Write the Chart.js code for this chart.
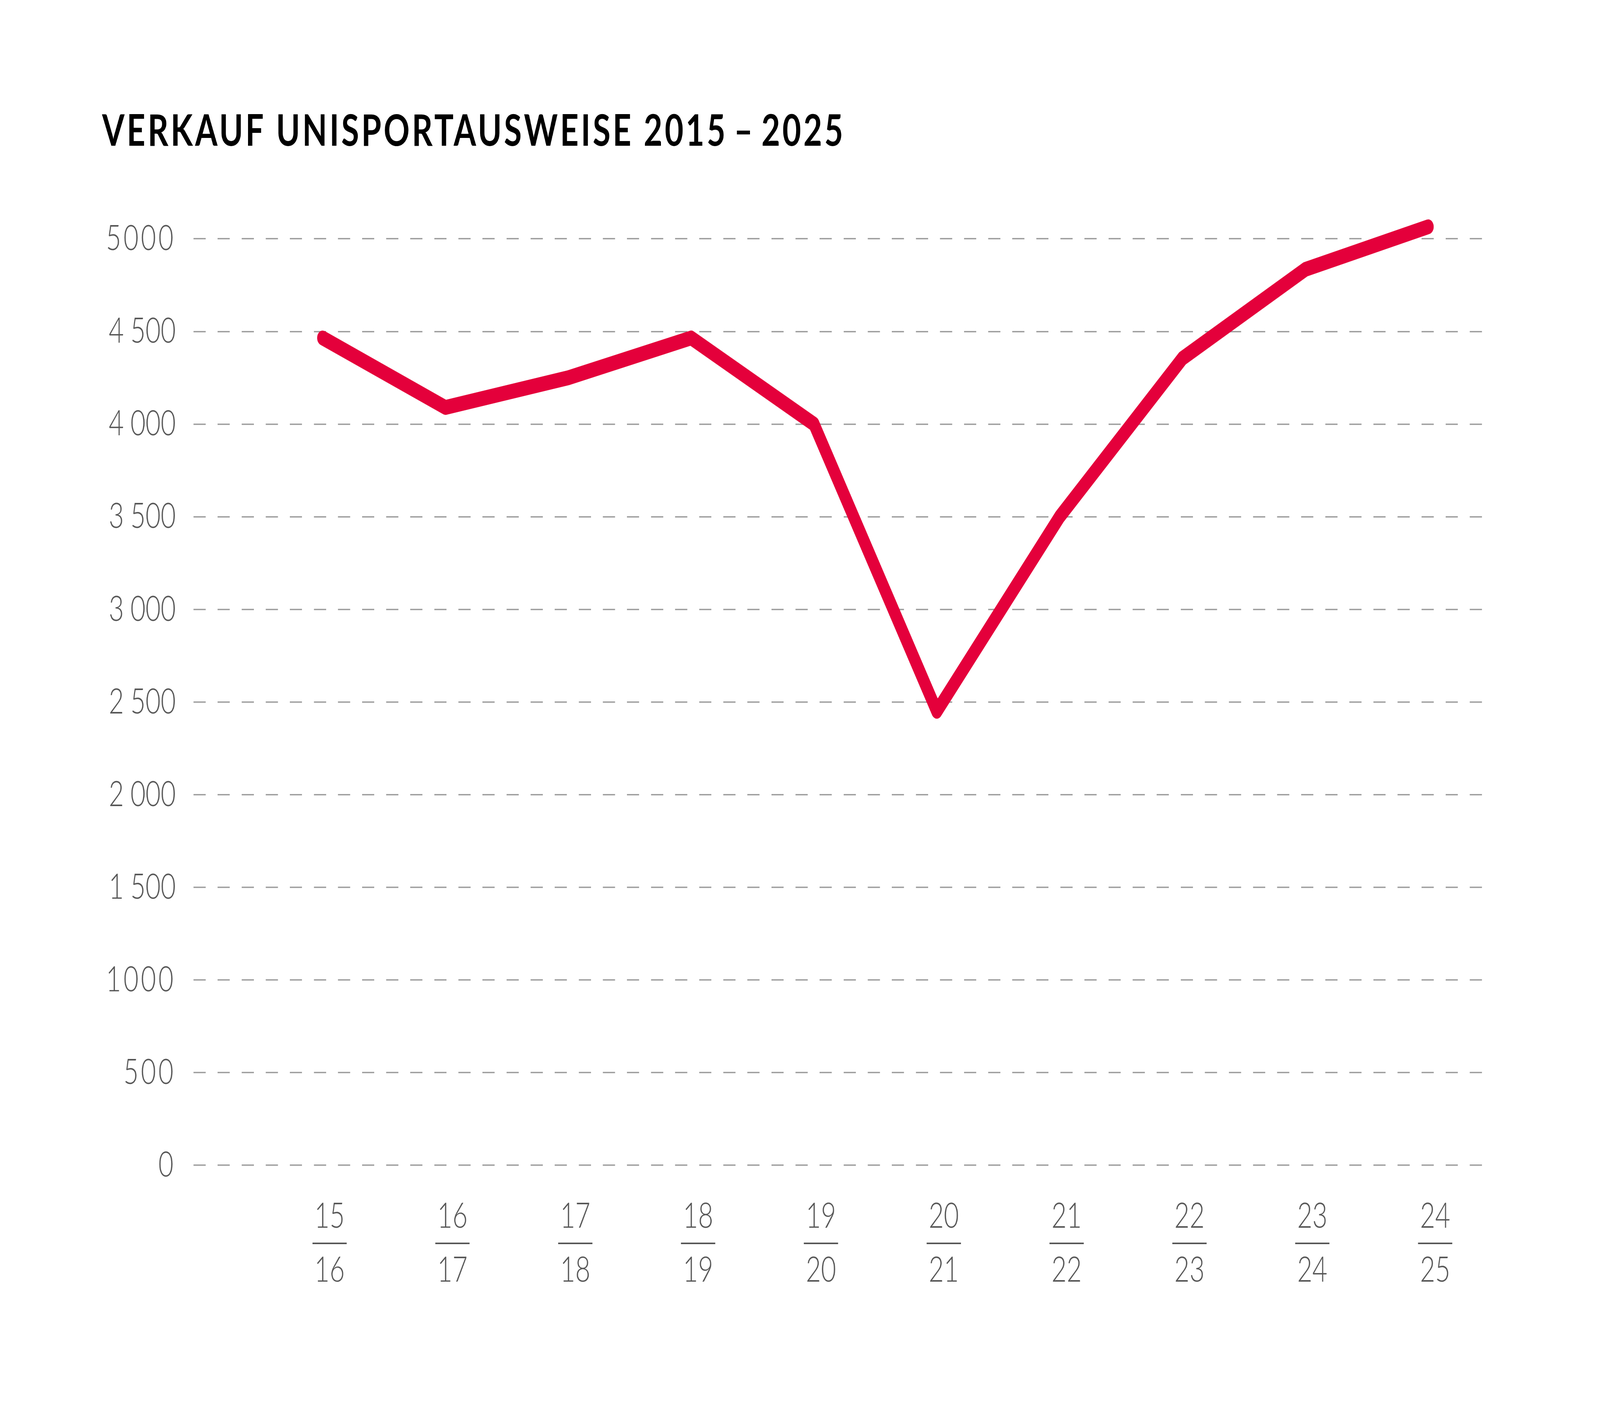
<!DOCTYPE html>
<html>
<head>
<meta charset="utf-8">
<script src="https://cdn.jsdelivr.net/npm/chart.js@4.4.1/dist/chart.umd.min.js"></script>
<style>
  html, body { margin: 0; padding: 0; background: #fff; overflow: hidden; }
  canvas { display: block; }
</style>
</head>
<body>
<canvas id="sales" width="5515" height="3611" style="width:100vw;height:100vh"></canvas>
<script>
const chartTitle = 'VERKAUF UNISPORTAUSWEISE 2015\u2009\u2013\u20092025'

// semester labels, drawn as "15 / 16" fractions under the axis
const seasonStart = ['15', '16', '17', '18', '19', '20', '21', '22', '23', '24']
const seasonEnd = ['16', '17', '18', '19', '20', '21', '22', '23', '24', '25']

// sold sport passes per season
const sales = [4465, 4090, 4250, 4465, 4000, 2450, 3500, 4355, 4835, 5065]

// y tick labels, one per 500 step
const yTicks = ['0', '500', '1000', '1\u202F500', '2\u202F000', '2\u202F500', '3\u202F000', '3\u202F500', '4\u202F000', '4\u202F500', '5000']

const textGrey = '#575757'

const tracking = {
  id: 'tracking',
  beforeDraw(chart) {
    chart.ctx.letterSpacing = '8px'
  }
}

const seasonLabels = {
  id: 'seasonLabels',
  afterDraw(chart) {
    const { ctx, chartArea, scales: { x } } = chart
    ctx.save()
    ctx.letterSpacing = '0px'
    ctx.fillStyle = textGrey
    ctx.font = '300 90px Lato'
    ctx.textAlign = 'center'
    ctx.textBaseline = 'middle'
    seasonStart.forEach((s, i) => {
      const cx = x.getPixelForValue(i) + 24
      ctx.fillText(s, cx, chartArea.bottom + 131)
      ctx.fillRect(cx - 59, chartArea.bottom + 198, 118, 4)
      ctx.fillText(seasonEnd[i], cx, chartArea.bottom + 269)
    })
    ctx.restore()
  }
}

new Chart(document.getElementById('sales'), {
  type: 'line',
  data: {
    datasets: [
      {
        label: 'Unisportausweise',
        data: sales.map((v, i) => ({ x: i, y: v })),
        borderColor: '#e4003b',
        borderWidth: 38,
        borderCapStyle: 'round',
        borderJoinStyle: 'round',
        pointRadius: 0,
        tension: 0,
        fill: false,
        clip: false
      }
    ]
  },
  options: {
    responsive: false,
    devicePixelRatio: 1,
    animation: false,
    events: [],
    layout: {
      padding: { left: 352, right: 389, top: 0, bottom: 629 }
    },
    plugins: {
      legend: { display: false },
      tooltip: { enabled: false },
      title: {
        display: true,
        text: chartTitle,
        align: 'start',
        color: '#000',
        font: { family: 'Lato', size: 111, weight: 'bold' },
        padding: { top: 271, bottom: 207 }
      }
    },
    scales: {
      x: {
        type: 'linear',
        display: false,
        min: -1.051,
        max: 9.48
      },
      y: {
        min: 0,
        max: 5000,
        afterFit(scale) { scale.width = 315 },
        ticks: {
          stepSize: 500,
          padding: 61,
          color: textGrey,
          font: { family: 'Lato', size: 90, weight: 300 },
          callback: v => yTicks[v / 500]
        },
        grid: { color: '#9e9e9e', lineWidth: 3.5, drawTicks: false },
        border: { display: false, dash: [42, 41] }
      }
    }
  },
  plugins: [tracking, seasonLabels]
})
</script>
</body>
</html>
